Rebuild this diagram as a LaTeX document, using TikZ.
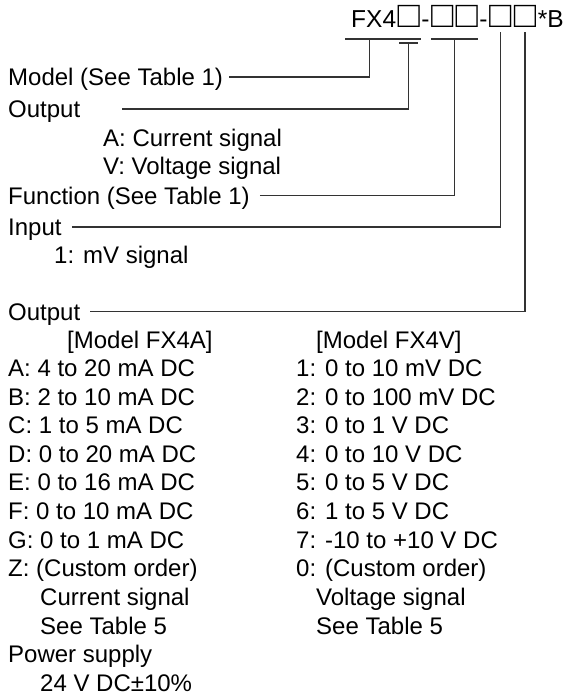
\documentclass[tikz,border=0pt]{standalone}
\usepackage{fontspec}
\setmainfont{Liberation Sans}
\usetikzlibrary{calc}
\newcommand{\sq}{\makebox[1em]{\fontsize{37}{37}\selectfont □}}

\begin{document}
\begin{tikzpicture}
  [x=1pt,y=-1pt,
   every node/.style={inner sep=0pt,text height=17pt,text depth=0pt,anchor=west,
                      font=\fontsize{24}{28}\selectfont},
   code/.style={font=\fontsize{24.5}{28}\selectfont,text height=17.5pt},
   lead/.style={line width=1.3pt,black!80}]
  \useasboundingbox (0,0) rectangle (564,695);

  % model code
  \node (tfx)[code] at (351,19) {FX4};
  \node (ts1)[code] at (tfx.east) {\sq};
  \node (td1)[code] at (ts1.east) {-};
  \node (ts23)[code] at (td1.east) {\sq\sq};
  \node (td2)[code] at (ts23.east) {-};
  \node (ts4)[code] at (td2.east) {\sq};
  \node (ts5)[code] at (ts4.east) {\sq};
  \node (tb)[code] at (ts5.east) {*B};

  % labels
  \node (model) at (8,77) {Model (See Table 1)};
  \node (out1) at (8,109) {Output};
  \node (curr) at (103,138) {A: Current signal};
  \node (volt) at (103,166.5) {V: Voltage signal};
  \node (func) at (8,195.5) {Function (See Table 1)};
  \node (inp) at (8,227) {Input};
  \node (mv) at (54,255) {1: mV signal};
  \node (out2) at (8,311.5) {Output};
  \node (hda) at (67,340) {[Model FX4A]};
  \node (hdv) at (316,340) {[Model FX4V]};

  \foreach \t [count=\i] in {A: 4 to 20 mA DC, B: 2 to 10 mA DC, C: 1 to 5 mA DC,
      D: 0 to 20 mA DC, E: 0 to 16 mA DC, F: 0 to 10 mA DC, G: 0 to 1 mA DC,
      Z: (Custom order)}
    \node (a\i) at (8,{339.4+28.6*\i}) {\t};
  \foreach \t [count=\i] in {1: 0 to 10 mV DC, 2: 0 to 100 mV DC, 3: 0 to 1 V DC,
      4: 0 to 10 V DC, 5: 0 to 5 V DC, 6: 1 to 5 V DC, 7: -10 to +10 V DC,
      0: (Custom order)}
    \node (v\i) at (296,{339.4+28.6*\i}) {\t};

  \node (acur) at (40,597) {Current signal};
  \node (asee) at (40,625.5) {See Table 5};
  \node (vcur) at (316,597) {Voltage signal};
  \node (vsee) at (316,625.5) {See Table 5};
  \node (pow) at (8,654) {Power supply};
  \node (volts) at (40,682.5) {24 V DC±10\%};

  % leaders
  \draw[lead] ($(tfx.west)+(-6,20)$) -- ($(ts1.east)+(0,20)$);
  \draw[lead] ($(ts1.west)+(3,24)$) -- ($(ts1.east)+(-3,24)$);
  \draw[lead] ($(ts23.west)+(1,20)$) -- ($(ts23.east)+(-1,20)$);
  \draw[lead] ([xshift=6pt]model.east) -| ($(tfx.center)+(-4,20)$);
  \draw[lead] ([xshift=42pt]out1.east) -| ($(ts1.center)+(0,24)$);
  \draw[lead] ([xshift=10pt]func.east) -| ($(ts23.center)+(0,20)$);
  \draw[lead] ([xshift=10pt]inp.east) -| ($(ts4.center)+(0,13)$);
  \draw[lead] ([xshift=10pt]out2.east) -| ($(ts5.center)+(0,13)$);
\end{tikzpicture}
\end{document}
